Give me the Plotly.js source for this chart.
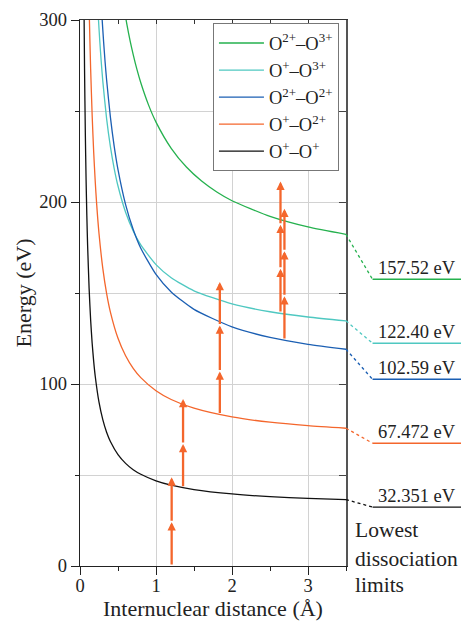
<!DOCTYPE html>
<html>
<head>
<meta charset="utf-8">
<script src="https://cdn.plot.ly/plotly-3.0.1.min.js"></script>
<style>
  html, body { margin: 0; padding: 0; background: #fff; }
  #chart { width: 461px; height: 621px; }
</style>
</head>
<body>
<div id="chart"></div>
<script>
// ---- Data ----
// Potential curves (internuclear distance in Å, energy in eV)
const distOO   = [0.05,0.06,0.07,0.08,0.09,0.10,0.12,0.14,0.16,0.18,0.20,0.25,0.30,0.35,0.40,0.50,0.60,0.70,0.80,1.00,1.20,1.50,2.00,2.50,3.00,3.50];
const energyOO = [320.4,272.4,238.1,212.4,192.4,176.4,152.4,135.2,122.4,112.4,104.4,90.0,80.4,73.5,68.4,61.2,56.4,52.9,50.4,46.8,44.4,42.0,39.6,38.1,37.2,36.5];

const distO1O2   = [0.11,0.12,0.13,0.14,0.16,0.18,0.20,0.22,0.25,0.30,0.35,0.40,0.50,0.60,0.70,0.80,1.00,1.20,1.50,2.00,2.50,3.00,3.50];
const energyO1O2 = [329.3,307.5,289.0,273.2,247.5,227.5,211.5,198.4,182.7,163.5,149.8,139.5,125.1,115.5,108.6,103.5,96.3,91.5,86.7,81.9,79.0,77.1,75.7];

const distO2O2   = [0.27,0.29,0.31,0.33,0.35,0.40,0.45,0.50,0.60,0.70,0.80,1.00,1.20,1.50,2.00,2.50,3.00,3.50];
const energyO2O2 = [315.9,301.2,288.4,277.1,267.2,246.6,230.6,217.8,198.6,184.9,174.6,160.2,150.6,141.0,131.4,125.6,121.8,119.1];

const distO1O3   = [0.22,0.24,0.26,0.28,0.30,0.35,0.40,0.45,0.50,0.60,0.70,0.80,1.00,1.20,1.50,2.00,2.50,3.00,3.50];
const energyO1O3 = [318.8,302.4,288.6,276.7,266.4,245.8,230.4,218.4,208.8,194.4,184.1,176.4,165.6,158.4,151.2,144.0,139.7,136.8,134.7];

const distO2O3   = [0.58,0.62,0.66,0.70,0.75,0.80,0.90,1.00,1.20,1.40,1.60,1.80,2.00,2.50,3.00,3.50];
const energyO2O3 = [306.5,296.9,288.4,281.0,272.7,265.5,253.5,243.9,229.5,219.2,211.5,205.5,200.7,192.1,186.3,182.2];

// Series names (legend order, top to bottom)
const seriesNames = ['O<sup>2+</sup>–O<sup>3+</sup>', 'O<sup>+</sup>–O<sup>3+</sup>', 'O<sup>2+</sup>–O<sup>2+</sup>', 'O<sup>+</sup>–O<sup>2+</sup>', 'O<sup>+</sup>–O<sup>+</sup>'];
const seriesDist   = [distO2O3, distO1O3, distO2O2, distO1O2, distOO];
const seriesEnergy = [energyO2O3, energyO1O3, energyO2O2, energyO1O2, energyOO];

// Lowest dissociation limits (eV), same order as series
const limitValues = [157.52, 122.40, 102.59, 67.472, 32.351];
const limitLabels = ['157.52 eV', '122.40 eV', '102.59 eV', '67.472 eV', '32.351 eV'];

// Transition arrows: x position (Å) and successive energy levels (eV)
const arrowDist   = [1.206, 1.356, 1.84, 2.638, 2.69];
const arrowLevels = [
  [0, 24.0, 48.7],
  [43.0, 67.0, 91.8],
  [83.3, 106.9, 132.2, 156.1],
  [139.0, 163.3, 187.5, 211.2],
  [124.2, 148.2, 173.0, 196.3]
];

const noteLines = ['Lowest', 'dissociation', 'limits'];

// ---- Styles ----
const colors = ['#25b14e', '#4fc8c1', '#1b5fb3', '#f4662c', '#111111'];
const arrowColor = '#f4662c';
const FONT = 'Liberation Serif, Times New Roman, serif';

const traces = seriesNames.map((name, i) => ({
  type: 'scatter', mode: 'lines',
  x: seriesDist[i], y: seriesEnergy[i],
  name: name,
  line: { color: colors[i], width: 1.3, shape: 'spline', smoothing: 0.6 },
  hoverinfo: 'skip'
}));
// empty helper trace to activate mirrored top/right axes
traces.push({ type: 'scatter', x: [], y: [], xaxis: 'x2', yaxis: 'y2', showlegend: false, hoverinfo: 'skip' });

const shapes = [];
const annotations = [];
const xMax = 3.5;
const labelLineStart = 1.0998, labelLineEnd = 1.436;

limitValues.forEach((v, i) => {
  const endE = seriesEnergy[i][seriesEnergy[i].length - 1];
  shapes.push({ type: 'line', xref: 'paper', yref: 'y', x0: 1.0, x1: labelLineStart, y0: endE, y1: v,
                line: { color: colors[i], width: 1.3, dash: 'dot' } });
  shapes.push({ type: 'line', xref: 'paper', yref: 'y', x0: labelLineStart, x1: labelLineEnd, y0: v, y1: v,
                line: { color: colors[i], width: 1.4 } });
  annotations.push({ xref: 'paper', yref: 'y', x: 1.113, y: v, xanchor: 'left', yanchor: 'middle', yshift: 11,
                     text: limitLabels[i], showarrow: false, font: { family: FONT, size: 18.5, color: '#222' } });
});

arrowDist.forEach((xa, i) => {
  const lv = arrowLevels[i];
  for (let k = 1; k < lv.length; k++) {
    annotations.push({ xref: 'x', yref: 'y', axref: 'x', ayref: 'y',
      x: xa, y: lv[k], ax: xa, ay: lv[k - 1], text: '', showarrow: true,
      arrowhead: 2, arrowsize: 0.72, arrowwidth: 2.3, arrowcolor: arrowColor, standoff: 0, startstandoff: 0 });
  }
});

const noteY = [0.0665, 0.0135, -0.0345];
noteLines.forEach((t, i) => {
  annotations.push({ xref: 'paper', yref: 'paper', x: 1.028, y: noteY[i], xanchor: 'left', yanchor: 'middle',
                     text: t, showarrow: false, font: { family: FONT, size: 21.5, color: '#222' } });
});

const layout = {
  width: 461, height: 621,
  margin: { l: 80, r: 115, t: 20, b: 55 },
  paper_bgcolor: '#fff', plot_bgcolor: '#fff',
  font: { family: FONT, size: 18, color: '#222' },
  showlegend: true,
  legend: { x: 0.4998, y: 0.9936, xanchor: 'left', yanchor: 'top', bgcolor: '#fff',
            bordercolor: '#777', borderwidth: 1, font: { family: FONT, size: 18.5, color: '#222' },
            itemwidth: 45, tracegroupgap: 0 },
  xaxis: {
    range: [0, xMax], dtick: 1, tick0: 0,
    ticks: 'outside', ticklen: 8, tickwidth: 1, tickcolor: '#222',
    showgrid: true, gridcolor: '#d2d2d2', gridwidth: 1,
    zeroline: false, showline: true, linecolor: '#222', linewidth: 1.2,
    minor: { dtick: 0.5, ticks: 'outside', ticklen: 4, tickcolor: '#222', showgrid: false },
    tickfont: { family: FONT, size: 18.5, color: '#222' },
    ticklabelstandoff: -5,
    title: { text: 'Internuclear distance (Å)', font: { family: FONT, size: 22, color: '#222' }, standoff: 4 }
  },
  yaxis: {
    range: [0, 300], dtick: 100, tick0: 0,
    ticks: 'outside', ticklen: 8, tickwidth: 1, tickcolor: '#222',
    showgrid: true, gridcolor: '#d2d2d2', gridwidth: 1,
    zeroline: false, showline: true, linecolor: '#222', linewidth: 1.2,
    minor: { dtick: 50, ticks: 'outside', ticklen: 4, tickcolor: '#222', showgrid: true, gridcolor: '#d2d2d2', gridwidth: 1 },
    tickfont: { family: FONT, size: 18.5, color: '#222' },
    title: { text: 'Energy (eV)', font: { family: FONT, size: 22, color: '#222' }, standoff: 1 }
  },
  xaxis2: {
    overlaying: 'x', side: 'top', range: [0, xMax], dtick: 0.5, tick0: 0,
    ticks: 'inside', ticklen: 4, tickcolor: '#333', showticklabels: false,
    showgrid: false, zeroline: false, showline: true, linecolor: '#333', linewidth: 1.2
  },
  yaxis2: {
    overlaying: 'y', side: 'right', range: [0, 300], dtick: 50, tick0: 0,
    ticks: 'inside', ticklen: 7, tickcolor: '#444', showticklabels: false,
    showgrid: false, zeroline: false, showline: true, linecolor: '#555', linewidth: 1.6
  },
  shapes: shapes,
  annotations: annotations
};

Plotly.newPlot('chart', traces, layout, { staticPlot: true, displayModeBar: false });
</script>
</body>
</html>
